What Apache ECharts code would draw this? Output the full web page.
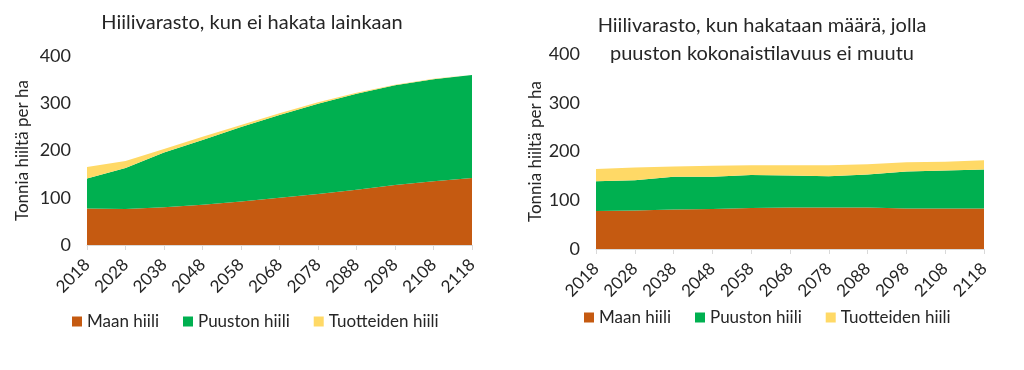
<!DOCTYPE html>
<html><head><meta charset="utf-8">
<script src="https://cdn.jsdelivr.net/npm/echarts@6/dist/echarts.min.js"></script>
<style>html,body{margin:0;padding:0;background:#fff}#c{width:1024px;height:370px}</style>
</head><body><div id="c"></div>
<script>
const years = ['2018','2028','2038','2048','2058','2068','2078','2088','2098','2108','2118'];
const seriesNames = ['Maan hiili','Puuston hiili','Tuotteiden hiili'];
const yTicks = [0, 100, 200, 300, 400];
const leftTitle = 'Hiilivarasto, kun ei hakata lainkaan';
const rightTitle = 'Hiilivarasto, kun hakataan määrä, jolla\npuuston kokonaistilavuus ei muutu';
const yName = 'Tonnia hiiltä per ha';
// Left: no harvest
const maanL = [77, 76, 80, 85, 92, 100, 108, 117, 127, 135, 142];
const puustonL = [64, 87, 116, 137, 158, 175, 191, 203, 211, 216, 218];
const tuotteidenL = [24, 15, 7, 7, 4, 4, 3, 2, 1, 1, 1];
// Right: harvest keeping volume constant
const maanR = [78, 79, 81, 82, 84, 85, 85, 85, 83, 83, 83];
const puustonR = [61, 62, 67, 66, 68, 66, 64, 68, 76, 78, 80];
const tuotteidenR = [25, 26, 21, 23, 20, 21, 23, 21, 19, 18, 19];

const colors = ['#C55A11', '#00B050', '#FFD966'];
const FONT = 'Lato';
const TXT = '#262626';

const chart = echarts.init(document.getElementById('c'), null, {renderer: 'canvas'});

function xAx(gi) {
  return {
    type: 'category', gridIndex: gi, data: years, boundaryGap: false,
    axisLine: {show: true, lineStyle: {color: '#d9d9d9', width: 1}},
    axisTick: {show: true, alignWithLabel: true, length: 5, lineStyle: {color: '#d9d9d9'}},
    axisLabel: {rotate: 45, color: TXT, fontFamily: FONT, fontSize: 17, margin: 17, interval: 0},
    splitLine: {show: false}
  };
}
function yAx(gi, gap) {
  return {
    type: 'value', gridIndex: gi, min: yTicks[0], max: yTicks[yTicks.length - 1], interval: 100,
    name: yName, nameLocation: 'middle', nameGap: gap, nameRotate: 90,
    nameTextStyle: {color: TXT, fontFamily: FONT, fontSize: 17},
    axisLine: {show: false}, axisTick: {show: false}, splitLine: {show: false},
    axisLabel: {color: TXT, fontFamily: FONT, fontSize: 18, margin: 16}
  };
}
function mk(name, data, gi, ci) {
  return {
    name: name, type: 'line', xAxisIndex: gi, yAxisIndex: gi, stack: 's' + gi,
    data: data, symbol: 'none', smooth: false,
    lineStyle: {width: 0}, areaStyle: {color: colors[ci], opacity: 1},
    itemStyle: {color: colors[ci]}, emphasis: {disabled: true}
  };
}
const legendBase = {
  data: seriesNames, icon: 'rect', itemWidth: 10, itemHeight: 10, itemGap: 24, padding: 0,
  textStyle: {color: TXT, fontFamily: FONT, fontSize: 17},
  selectedMode: false
};

chart.setOption({
  animation: false,
  color: colors,
  title: [
    {text: leftTitle, left: 252, top: 13, textAlign: 'center', padding: 0,
     textStyle: {color: TXT, fontFamily: FONT, fontSize: 20, fontWeight: 'normal'}},
    {text: rightTitle, left: 762, top: 12, textAlign: 'center', padding: 0,
     textStyle: {color: TXT, fontFamily: FONT, fontSize: 20, fontWeight: 'normal', lineHeight: 28}}
  ],
  legend: [
    Object.assign({}, legendBase, {left: 72, top: 313}),
    Object.assign({}, legendBase, {left: 584, top: 309})
  ],
  grid: [
    {left: 87, right: 552, top: 56, bottom: 125},
    {left: 596, right: 40, top: 54, bottom: 121}
  ],
  xAxis: [xAx(0), xAx(1)],
  yAxis: [yAx(0, 56), yAx(1, 52)],
  series: [
    mk(seriesNames[0], maanL, 0, 0), mk(seriesNames[1], puustonL, 0, 1), mk(seriesNames[2], tuotteidenL, 0, 2),
    mk(seriesNames[0], maanR, 1, 0), mk(seriesNames[1], puustonR, 1, 1), mk(seriesNames[2], tuotteidenR, 1, 2)
  ]
});
</script></body></html>
